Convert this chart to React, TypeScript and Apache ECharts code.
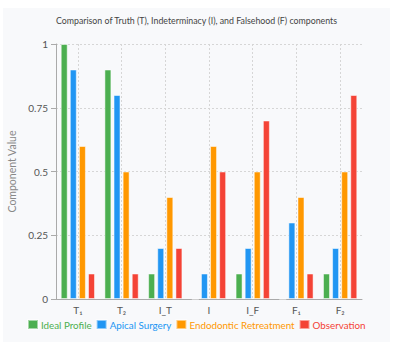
import React, { useEffect, useRef } from "react";
import * as echarts from "echarts";

const categories = ["T\u2081", "T\u2082", "I_T", "I", "I_F", "F\u2081", "F\u2082"];
const seriesNames = ["Ideal Profile", "Apical Surgery", "Endodontic Retreatment", "Observation"];
const idealProfile = [1, 0.9, 0.1, 0, 0.1, 0, 0.1];
const apicalSurgery = [0.9, 0.8, 0.2, 0.1, 0.2, 0.3, 0.2];
const endodonticRetreatment = [0.6, 0.5, 0.4, 0.6, 0.5, 0.4, 0.5];
const observation = [0.1, 0.1, 0.2, 0.5, 0.7, 0.1, 0.8];
const colors = ["#4caf50", "#2196f3", "#ff9800", "#f44336"];
const yTicks = [0, 0.25, 0.5, 0.75, 1];

export default function App() {
  const ref = useRef<HTMLDivElement>(null);
  useEffect(() => {
    if (!ref.current) return;
    const chart = echarts.init(ref.current, null, { renderer: "svg" });
    const font = "Lato, 'Noto Sans', sans-serif";
    const datasets = [idealProfile, apicalSurgery, endodonticRetreatment, observation];
    chart.setOption({
      animation: false,
      backgroundColor: "#f8f9fb",
      textStyle: { fontFamily: font },
      title: {
        text: "Comparison of Truth (T), Indeterminacy (I), and Falsehood (F) components",
        left: "center",
        top: 3,
        textStyle: { fontSize: 8.8, fontWeight: "normal", color: "#444", fontFamily: font },
      },
      legend: {
        bottom: 7,
        left: 19,
        itemWidth: 10,
        itemHeight: 9,
        itemGap: 4,
        icon: "rect",
        textStyle: { fontSize: 9.8, fontFamily: font, padding: [0, 0, 0, -2] },
        data: seriesNames.map((n, i) => ({ name: n, textStyle: { color: colors[i] } })),
      },
      grid: { left: 53, right: 28, top: 36, bottom: 43, containLabel: false, outerBoundsMode: "none" },
      xAxis: {
        type: "category",
        data: categories,
        axisLine: { lineStyle: { color: "#aaa" } },
        axisTick: { alignWithLabel: true, lineStyle: { color: "#aaa" } },
        axisLabel: { color: "#555", fontSize: 10, fontFamily: font, margin: 6 },
        splitLine: { show: true, alignWithLabel: true, lineStyle: { type: [2, 2], color: "#d6d6d6" } },
      },
      yAxis: {
        type: "value",
        min: 0,
        max: 1,
        interval: 0.25,
        name: "Component Value",
        nameLocation: "middle",
        nameGap: 32,
        nameTextStyle: { color: "#888", fontSize: 10.5, fontFamily: font },
        axisLine: { show: true, lineStyle: { color: "#aaa" } },
        axisTick: { show: true, lineStyle: { color: "#aaa" } },
        axisLabel: {
          color: "#555",
          fontSize: 10,
          fontFamily: font,
          formatter: (v: number) => (yTicks.includes(v) ? String(v) : ""),
        },
        splitLine: { lineStyle: { type: [2, 2], color: "#d6d6d6" } },
      },
      series: seriesNames.map((n, i) => ({
        name: n,
        type: "bar",
        data: datasets[i],
        barWidth: 7,
        barGap: "30%",
        itemStyle: { color: colors[i], borderColor: "rgba(255,255,255,0.5)", borderWidth: 1 },
      })),
    });
    return () => chart.dispose();
  }, []);
  return (
    <div
      ref={ref}
      style={{ position: "absolute", left: 3, top: 8, width: 387, height: 334 }}
    />
  );
}
